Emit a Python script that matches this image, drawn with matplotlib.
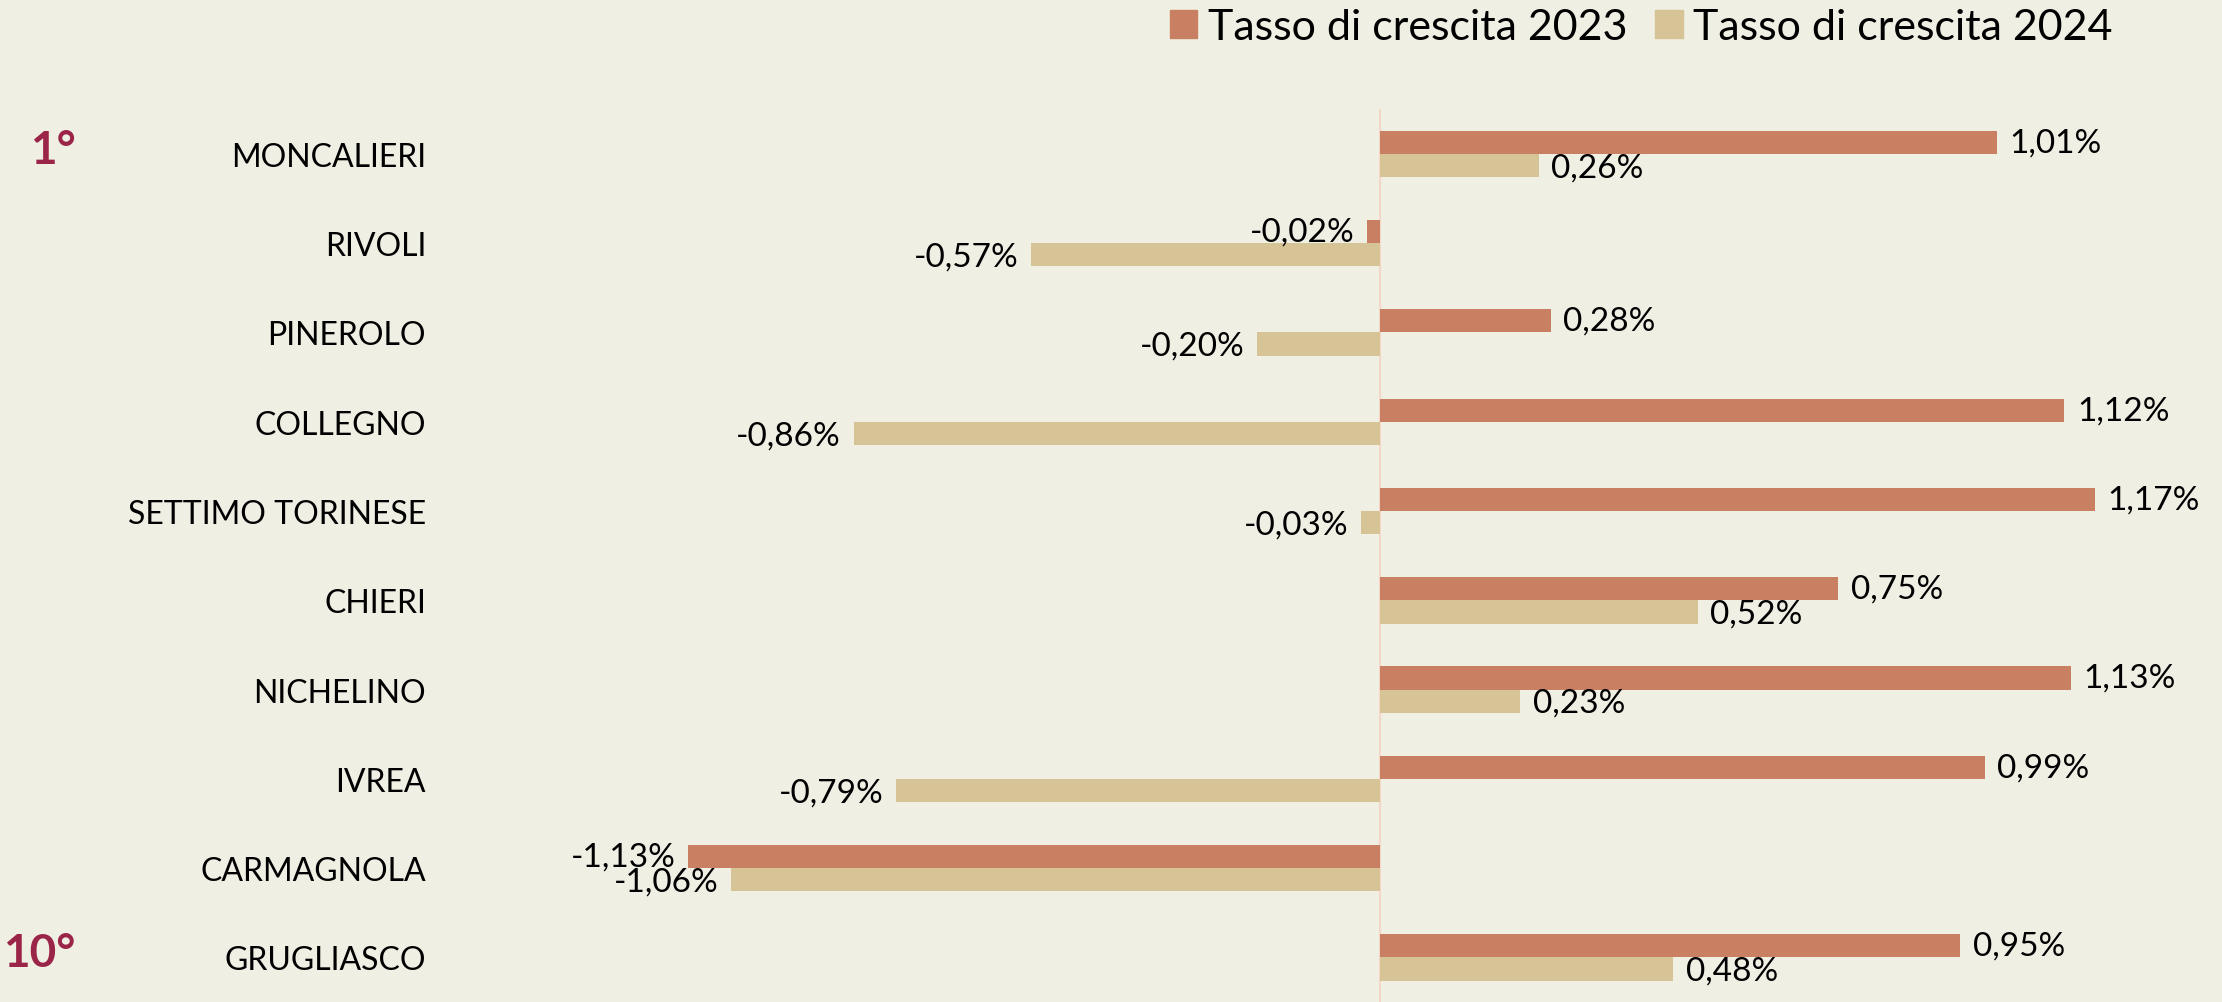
import numpy as np
import matplotlib
matplotlib.use("Agg")
import matplotlib.pyplot as plt
from matplotlib.patches import Patch
from matplotlib.transforms import blended_transform_factory

plt.rcParams['font.family'] = ['Lato', 'DejaVu Sans']

comuni = ['MONCALIERI', 'RIVOLI', 'PINEROLO', 'COLLEGNO', 'SETTIMO TORINESE',
          'CHIERI', 'NICHELINO', 'IVREA', 'CARMAGNOLA', 'GRUGLIASCO']
tasso_2023 = [1.01, -0.02, 0.28, 1.12, 1.17, 0.75, 1.13, 0.99, -1.13, 0.95]
tasso_2024 = [0.26, -0.57, -0.20, -0.86, -0.03, 0.52, 0.23, -0.79, -1.06, 0.48]
serie = ['Tasso di crescita 2023', 'Tasso di crescita 2024']
rank_labels = {0: '1°', 9: '10°'}

bg = '#F0EFE3'
col23 = '#C98062'
col24 = '#D6C396'

fig = plt.figure(figsize=(22.22, 10.03), dpi=100, facecolor=bg)
ax = fig.add_axes([0.208, 0.0, 0.7844, 0.890])
ax.set_facecolor(bg)

y = np.arange(len(comuni))
h = 0.26
ax.barh(y - h / 2, tasso_2023, height=h, color=col23, zorder=2)
ax.barh(y + h / 2, tasso_2024, height=h, color=col24, zorder=2)
ax.axvline(0, color='#F3D8CA', lw=1.5, zorder=1)

def fmt(v):
    return ('%.2f' % v).replace('.', ',') + '%'

for vals, off in [(tasso_2023, -h / 2), (tasso_2024, h / 2 + 0.02)]:
    for i, v in enumerate(vals):
        if v >= 0:
            ax.annotate(fmt(v), (v, i + off), xytext=(9, 0), textcoords='offset points',
                        ha='left', va='center', fontsize=24, color='black')
        else:
            ax.annotate(fmt(v), (v, i + off), xytext=(-9, 0), textcoords='offset points',
                        ha='right', va='center', fontsize=24, color='black')

ax.set_xlim(-1.5, 1.35)
ax.set_ylim(len(comuni) - 0.5, -0.5)
ax.set_yticks(y)
ax.set_yticklabels(comuni, fontsize=23)
ax.tick_params(axis='y', length=0, pad=26)
ax.set_xticks([])
for s in ax.spines.values():
    s.set_visible(False)

tr = blended_transform_factory(fig.transFigure, ax.transData)
for i, lab in rank_labels.items():
    ax.text(0.034, i - 0.05, lab, transform=tr, ha='right', va='center',
            fontsize=33, fontweight='bold', color='#9B2548')

handles = [Patch(color=col23), Patch(color=col24)]
fig.legend(handles, serie, loc='center left', bbox_to_anchor=(1170 / 2222, 1 - 28 / 1003),
           ncol=2, frameon=False, fontsize=31, handlelength=0.63, handleheight=0.63,
           handletextpad=0.25, columnspacing=0.65, borderpad=0, borderaxespad=0)

fig.savefig('out.png', dpi=100, facecolor=bg)
